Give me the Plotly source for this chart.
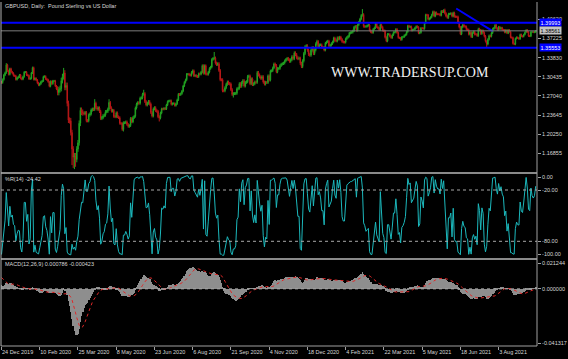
import numpy as np
import pandas as pd
import plotly.graph_objects as go

# ---------------- data ----------------
# GBPUSD daily closes before the visible window (Oct 1 - Dec 23 2019), used only to warm up the indicators
warmup_close = [
    1.2295, 1.2300, 1.2335, 1.2325, 1.2290, 1.2210, 1.2215, 1.2445, 1.2670, 1.2605, 1.2765, 1.2820,
    1.2890, 1.2985, 1.2975, 1.2860, 1.2890, 1.2830, 1.2830, 1.2855, 1.2860, 1.2940, 1.2945,
    1.2940, 1.2895, 1.2875, 1.2875, 1.2800, 1.2775, 1.2855, 1.2860, 1.2855, 1.2890, 1.2905,
    1.2945, 1.2935, 1.2915, 1.2830, 1.2835, 1.2895, 1.2860, 1.2925, 1.2925, 1.2930,
    1.2940, 1.2995, 1.3140, 1.3145, 1.3150, 1.3160, 1.3180, 1.3195, 1.3190, 1.3325, 1.3335,
    1.3110, 1.3075, 1.3030, 1.3010, 1.2950,
]
warmup_wick = 0.0020

# visible daily closes, 24 Dec 2019 .. 15 Sep 2021
close_dec19 = [1.2940, 1.2995, 1.3075, 1.3115, 1.3255]
close_jan20 = [1.3150, 1.3085, 1.3185, 1.3130, 1.3105, 1.3065, 1.3060, 1.2995, 1.3025, 1.3040, 1.3075,
               1.3015, 1.3000, 1.3045, 1.3125, 1.3125, 1.3075, 1.3065, 1.3005, 1.3015, 1.3110, 1.3205]
close_feb20 = [1.2995, 1.3015, 1.2985, 1.2935, 1.2895, 1.2920, 1.2955, 1.2970, 1.3045, 1.3050,
               1.3005, 1.2990, 1.2955, 1.2875, 1.2960, 1.2920, 1.2970, 1.2970, 1.2880, 1.2825]
close_mar20 = [1.2765, 1.2815, 1.2835, 1.2975, 1.3045, 1.3110, 1.2855, 1.2890, 1.2570, 1.2275, 1.2265,
               1.2055, 1.1765, 1.1620, 1.1645, 1.1580, 1.1765, 1.1875, 1.2220, 1.2450, 1.2415, 1.2405]
close_apr20 = [1.2390, 1.2410, 1.2265, 1.2265, 1.2365, 1.2385, 1.2455, 1.2470, 1.2465, 1.2575, 1.2495,
               1.2470, 1.2490, 1.2430, 1.2305, 1.2320, 1.2355, 1.2365, 1.2425, 1.2430, 1.2470, 1.2590]
close_may20 = [1.2495, 1.2435, 1.2450, 1.2340, 1.2335, 1.2405, 1.2335, 1.2320, 1.2220, 1.2215, 1.2110,
               1.2230, 1.2230, 1.2245, 1.2200, 1.2165, 1.2180, 1.2305, 1.2245, 1.2320, 1.2345]
close_jun20 = [1.2490, 1.2560, 1.2585, 1.2575, 1.2665, 1.2670, 1.2735, 1.2745, 1.2605, 1.2545, 1.2575,
               1.2605, 1.2560, 1.2410, 1.2350, 1.2475, 1.2495, 1.2445, 1.2430, 1.2335, 1.2315, 1.2400]
close_jul20 = [1.2475, 1.2470, 1.2485, 1.2475, 1.2545, 1.2605, 1.2615, 1.2620, 1.2555, 1.2570, 1.2570,
               1.2535, 1.2565, 1.2635, 1.2735, 1.2725, 1.2745, 1.2790, 1.2880, 1.2945, 1.2990, 1.3090, 1.3090]
close_aug20 = [1.3075, 1.3070, 1.3120, 1.3150, 1.3060, 1.3065, 1.3050, 1.3045, 1.3095, 1.3090, 1.3125,
               1.3240, 1.3105, 1.3240, 1.3090, 1.3085, 1.3125, 1.3190, 1.3215, 1.3350, 1.3370]
close_sep20 = [1.3375, 1.3285, 1.3260, 1.3275, 1.3155, 1.2990, 1.2990, 1.2795, 1.2795, 1.2850, 1.2910,
               1.2950, 1.2925, 1.2915, 1.2815, 1.2730, 1.2745, 1.2745, 1.2750, 1.2830, 1.2840, 1.2920]
close_oct20 = [1.2875, 1.2940, 1.2975, 1.2880, 1.2945, 1.2955, 1.3050, 1.3055, 1.2920, 1.3005, 1.2905,
               1.2920, 1.2950, 1.2945, 1.3120, 1.3075, 1.3040, 1.3015, 1.3045, 1.2950, 1.2915, 1.2945]
close_nov20 = [1.2940, 1.3060, 1.2985, 1.3145, 1.3150, 1.3200, 1.3270, 1.3245, 1.3130, 1.3190, 1.3190,
               1.3240, 1.3265, 1.3275, 1.3285, 1.3325, 1.3350, 1.3370, 1.3345, 1.3315, 1.3345]
close_dec20 = [1.3395, 1.3365, 1.3465, 1.3435, 1.3380, 1.3365, 1.3370, 1.3280, 1.3225, 1.3325, 1.3455,
               1.3575, 1.3590, 1.3515, 1.3440, 1.3425, 1.3515, 1.3555, 1.3455, 1.3520, 1.3625, 1.3670]
close_jan21 = [1.3570, 1.3610, 1.3610, 1.3565, 1.3565, 1.3515, 1.3640, 1.3660, 1.3675, 1.3590,
               1.3600, 1.3630, 1.3660, 1.3730, 1.3685, 1.3675, 1.3735, 1.3710, 1.3745, 1.3705]
close_feb21 = [1.3665, 1.3655, 1.3655, 1.3715, 1.3740, 1.3760, 1.3815, 1.3825, 1.3830, 1.3855,
               1.3920, 1.3935, 1.3865, 1.3965, 1.4010, 1.4065, 1.4130, 1.4145, 1.3935, 1.3930]
close_mar21 = [1.3935, 1.3950, 1.3960, 1.3865, 1.3835, 1.3825, 1.3885, 1.3910, 1.3990, 1.3925, 1.3905,
               1.3875, 1.3965, 1.3920, 1.3865, 1.3855, 1.3740, 1.3675, 1.3795, 1.3795, 1.3760, 1.3735, 1.3785]
close_apr21 = [1.3830, 1.3830, 1.3885, 1.3825, 1.3735, 1.3730, 1.3700, 1.3745, 1.3750, 1.3775, 1.3790,
               1.3840, 1.3945, 1.3925, 1.3930, 1.3865, 1.3875, 1.3880, 1.3910, 1.3935, 1.3920, 1.3815]
close_may21 = [1.3825, 1.3905, 1.3900, 1.3895, 1.3995, 1.4140, 1.4135, 1.4060, 1.4075, 1.4095, 1.4140,
               1.4195, 1.4115, 1.4180, 1.4150, 1.4150, 1.4150, 1.4130, 1.4205, 1.4190, 1.4220]
close_jun21 = [1.4165, 1.4115, 1.4090, 1.4155, 1.4155, 1.4165, 1.4115, 1.4175, 1.4110, 1.4105, 1.4105,
               1.4000, 1.3920, 1.3800, 1.3925, 1.3960, 1.3935, 1.3930, 1.3880, 1.3875, 1.3795, 1.3830]
close_jul21 = [1.3750, 1.3825, 1.3840, 1.3795, 1.3795, 1.3770, 1.3890, 1.3870, 1.3805, 1.3860, 1.3825,
               1.3760, 1.3670, 1.3620, 1.3705, 1.3770, 1.3760, 1.3820, 1.3890, 1.3905, 1.3955, 1.3900]
close_aug21 = [1.3875, 1.3925, 1.3890, 1.3910, 1.3875, 1.3870, 1.3830, 1.3870, 1.3815, 1.3870, 1.3840,
               1.3740, 1.3735, 1.3630, 1.3620, 1.3720, 1.3740, 1.3730, 1.3715, 1.3790, 1.3760, 1.3755]
close_sep21 = [1.3790, 1.3830, 1.3870, 1.3835, 1.3765, 1.3760, 1.3835, 1.3835, 1.3830, 1.3835, 1.3856]

monthly_closes = [close_dec19, close_jan20, close_feb20, close_mar20, close_apr20, close_may20, close_jun20,
                  close_jul20, close_aug20, close_sep20, close_oct20, close_nov20, close_dec20, close_jan21,
                  close_feb21, close_mar21, close_apr21, close_may21, close_jun21, close_jul21, close_aug21,
                  close_sep21]
# typical shadow length beyond the candle body, one value per month
monthly_wick = [0.0020, 0.0018, 0.0018, 0.0050, 0.0028, 0.0024, 0.0026, 0.0020, 0.0022, 0.0026,
                0.0026, 0.0024, 0.0028, 0.0022, 0.0022, 0.0020, 0.0018, 0.0018, 0.0020, 0.0020,
                0.0017, 0.0015]

# intraday extremes of a few notable bars (bar index in the visible window)
key_high_idx = [4, 52, 78, 90, 119, 178, 302, 371]
key_high = [1.3285, 1.3200, 1.2647, 1.2645, 1.2813, 1.3482, 1.4241, 1.4249]
key_low_idx = [59, 60, 61, 62, 102, 132, 194, 406, 430]
key_low = [1.1480, 1.1430, 1.1409, 1.1450, 1.2075, 1.2252, 1.2676, 1.3572, 1.3602]

date_labels = ["24 Dec 2019", "10 Feb 2020", "25 Mar 2020", "8 May 2020", "23 Jun 2020", "6 Aug 2020",
               "21 Sep 2020", "4 Nov 2020", "18 Dec 2020", "4 Feb 2021", "22 Mar 2021", "5 May 2021",
               "18 Jun 2021", "3 Aug 2021"]
bars_per_label = 32

price_ticks = [1.40620, 1.37225, 1.33830, 1.30435, 1.27040, 1.23645, 1.20250, 1.16855]
levels = [1.39993, 1.35553]
bid = 1.38561
trend_idx = [380.5, 411.0]
trend_price = [1.4251, 1.3850]

wpr_levels = [-20, -80]
wpr_tick_vals = [-4.8, -20, -80, -95.2]
wpr_tick_text = ["0.00", "-20.00", "-80.00", "-100.00"]
macd_tick_vals = [0.019036, 0.0, -0.040066]
macd_tick_text = ["0.021244", "0.000000", "-0.041317"]

title_text = "GBPUSD, Daily:  Pound Sterling vs US Dollar"
wpr_text = "%R(14) -24.42"
macd_text = "MACD(12,26,9) 0.000786 -0.000423"
watermark = "WWW.TRADERSUP.COM"

# ---------------- derived series ----------------
close = [v for m in monthly_closes for v in m]
wick = [warmup_wick] * len(warmup_close) + [w for m, w in zip(monthly_closes, monthly_wick) for _ in m]
nw = len(warmup_close)
c_all = np.array(warmup_close + close, dtype=float)
w_all = np.array(wick, dtype=float)
o_all = np.r_[c_all[0], c_all[:-1]]
h_all = np.maximum(o_all, c_all) + w_all
l_all = np.minimum(o_all, c_all) - w_all
for i, v in zip(key_high_idx, key_high):
    h_all[nw + i] = max(h_all[nw + i], v)
for i, v in zip(key_low_idx, key_low):
    l_all[nw + i] = min(l_all[nw + i], v)


def ema(a, n):
    k = 2.0 / (n + 1)
    out = np.empty_like(a)
    out[0] = a[0]
    for i in range(1, len(a)):
        out[i] = a[i] * k + out[i - 1] * (1 - k)
    return out


macd_all = ema(c_all, 12) - ema(c_all, 26)
sig_all = pd.Series(macd_all).rolling(9, min_periods=1).mean().to_numpy()
wpr_all = np.empty_like(c_all)
for i in range(len(c_all)):
    lo = max(0, i - 13)
    hh = h_all[lo:i + 1].max()
    ll = l_all[lo:i + 1].min()
    wpr_all[i] = -100.0 * (hh - c_all[i]) / (hh - ll) if hh > ll else -50.0

o, h, l, c = o_all[nw:], h_all[nw:], l_all[nw:], c_all[nw:]
macd, sig, wpr = macd_all[nw:], sig_all[nw:], wpr_all[nw:]
x = np.arange(len(c))

# ---------------- figure ----------------
BULL = "#22a322"
BEAR = "#b81818"
BLUE = "#0000ff"
TXT = "#d8d8d8"
AX = "#a0a0a0"
FONT = "Liberation Sans"
FS = 5.5

fig = go.Figure()
fig.add_trace(go.Candlestick(
    x=x, open=o, high=h, low=l, close=c, xaxis="x", yaxis="y", whiskerwidth=0,
    increasing=dict(line=dict(color=BULL, width=1), fillcolor=BULL),
    decreasing=dict(line=dict(color=BEAR, width=1), fillcolor=BEAR),
))
fig.add_trace(go.Scatter(x=trend_idx, y=trend_price, mode="lines", line=dict(color=BLUE, width=2),
                         xaxis="x", yaxis="y"))
fig.add_trace(go.Scatter(x=x, y=wpr, mode="lines", line=dict(color="#1cb8bc", width=1),
                         xaxis="x", yaxis="y2"))
fig.add_trace(go.Bar(x=x, y=macd, marker=dict(color="#8e8e8e", line=dict(width=0)), width=0.6,
                     xaxis="x", yaxis="y3"))
fig.add_trace(go.Scatter(x=x, y=sig, mode="lines", line=dict(color="#e02828", width=1, dash="dot"),
                         xaxis="x", yaxis="y3"))

shapes = []
for lv in levels:
    shapes.append(dict(type="line", xref="paper", x0=0, x1=1, yref="y", y0=lv, y1=lv,
                       line=dict(color=BLUE, width=2)))
shapes.append(dict(type="line", xref="paper", x0=0, x1=1, yref="y", y0=bid, y1=bid,
                   line=dict(color="#7c7c7c", width=1)))
for lv in wpr_levels:
    shapes.append(dict(type="line", xref="paper", x0=0, x1=1, yref="y2", y0=lv, y1=lv,
                       line=dict(color="#a8a8a8", width=1, dash="dot")))
shapes.append(dict(type="line", xref="paper", x0=0, x1=1, yref="y3", y0=0, y1=0,
                   line=dict(color="#a8a8a8", width=1, dash="dot")))
# pane separators and frame
for yp in [(346 - 173.0) / 344, (346 - 259.0) / 344]:
    shapes.append(dict(type="line", xref="paper", x0=0, x1=1, yref="paper", y0=yp, y1=yp,
                       line=dict(color="#b8b8b8", width=1.5)))
shapes.append(dict(type="line", xref="paper", x0=1, x1=1, yref="paper", y0=0, y1=1,
                   line=dict(color=AX, width=1)))
shapes.append(dict(type="line", xref="paper", x0=0, x1=1, yref="paper", y0=0, y1=0,
                   line=dict(color=AX, width=1)))
shapes.append(dict(type="line", xref="paper", x0=0, x1=0, yref="paper", y0=0, y1=1,
                   line=dict(color="#b0b0b0", width=1)))

annotations = [
    dict(text=title_text, xref="paper", yref="paper", x=0, y=(346 - 5.5) / 344, xanchor="left",
         yanchor="middle", xshift=2, showarrow=False, font=dict(family=FONT, size=FS, color=TXT)),
    dict(text=wpr_text, xref="paper", yref="paper", x=0, y=(346 - 179) / 344, xanchor="left",
         yanchor="middle", xshift=2, showarrow=False, font=dict(family=FONT, size=FS, color=TXT)),
    dict(text=macd_text, xref="paper", yref="paper", x=0, y=(346 - 264) / 344, xanchor="left",
         yanchor="middle", xshift=2, showarrow=False, font=dict(family=FONT, size=FS, color=TXT)),
    dict(text=watermark, xref="paper", yref="paper", x=(409.5 - 1) / 536, y=(346 - 72) / 344,
         xanchor="center", yanchor="middle", showarrow=False,
         font=dict(family="Liberation Serif", size=14, color="#f2f2f2")),
]
for lv in levels:
    annotations.append(dict(text=f"{lv:.5f}", xref="paper", yref="y", x=1, y=lv, xanchor="left",
                            yanchor="middle", xshift=2, showarrow=False, bgcolor=BLUE, borderpad=0.5,
                            font=dict(family=FONT, size=FS, color="#ffffff")))
annotations.append(dict(text=f"{bid:.5f}", xref="paper", yref="y", x=1, y=bid, xanchor="left",
                        yanchor="middle", xshift=2, showarrow=False, bgcolor="#c4c4c4", borderpad=0.5,
                        font=dict(family=FONT, size=FS, color="#000000")))

tickfont = dict(family=FONT, size=FS, color=TXT)
yax_common = dict(side="right", anchor="x", ticks="outside", ticklen=3, tickcolor=AX, showgrid=False,
                  zeroline=False, showline=False, tickfont=tickfont, fixedrange=True, automargin=False)

fig.update_layout(
    width=568, height=359, margin=dict(l=1, r=31, t=2, b=13, pad=0, autoexpand=False),
    paper_bgcolor="#000000", plot_bgcolor="#000000", showlegend=False,
    xaxis=dict(domain=[0, 1], range=[-0.42, 448.1], anchor="y3", automargin=False,
               tickvals=[i * bars_per_label for i in range(len(date_labels))], ticktext=date_labels,
               ticks="outside", ticklen=3, tickcolor=AX, ticklabelposition="outside right",
               tickangle=0, ticklabelstandoff=0,
               tickfont=tickfont, showgrid=False, zeroline=False, showline=False,
               rangeslider=dict(visible=False), fixedrange=True),
    yaxis=dict(domain=[(346 - 172.3) / 344, 1], range=[1.13527, 1.43664],
               tickvals=price_ticks, ticktext=[f"{v:.5f}" for v in price_ticks], **yax_common),
    yaxis2=dict(domain=[(346 - 258.4) / 344, (346 - 172.9) / 344], range=[-100, 0],
                tickvals=wpr_tick_vals, ticktext=wpr_tick_text, **yax_common),
    yaxis3=dict(domain=[0, (346 - 260) / 344], range=[-0.042053, 0.021244],
                tickvals=macd_tick_vals, ticktext=macd_tick_text, **yax_common),
    shapes=shapes, annotations=annotations, bargap=0,
)

fig.write_html("out.html")
